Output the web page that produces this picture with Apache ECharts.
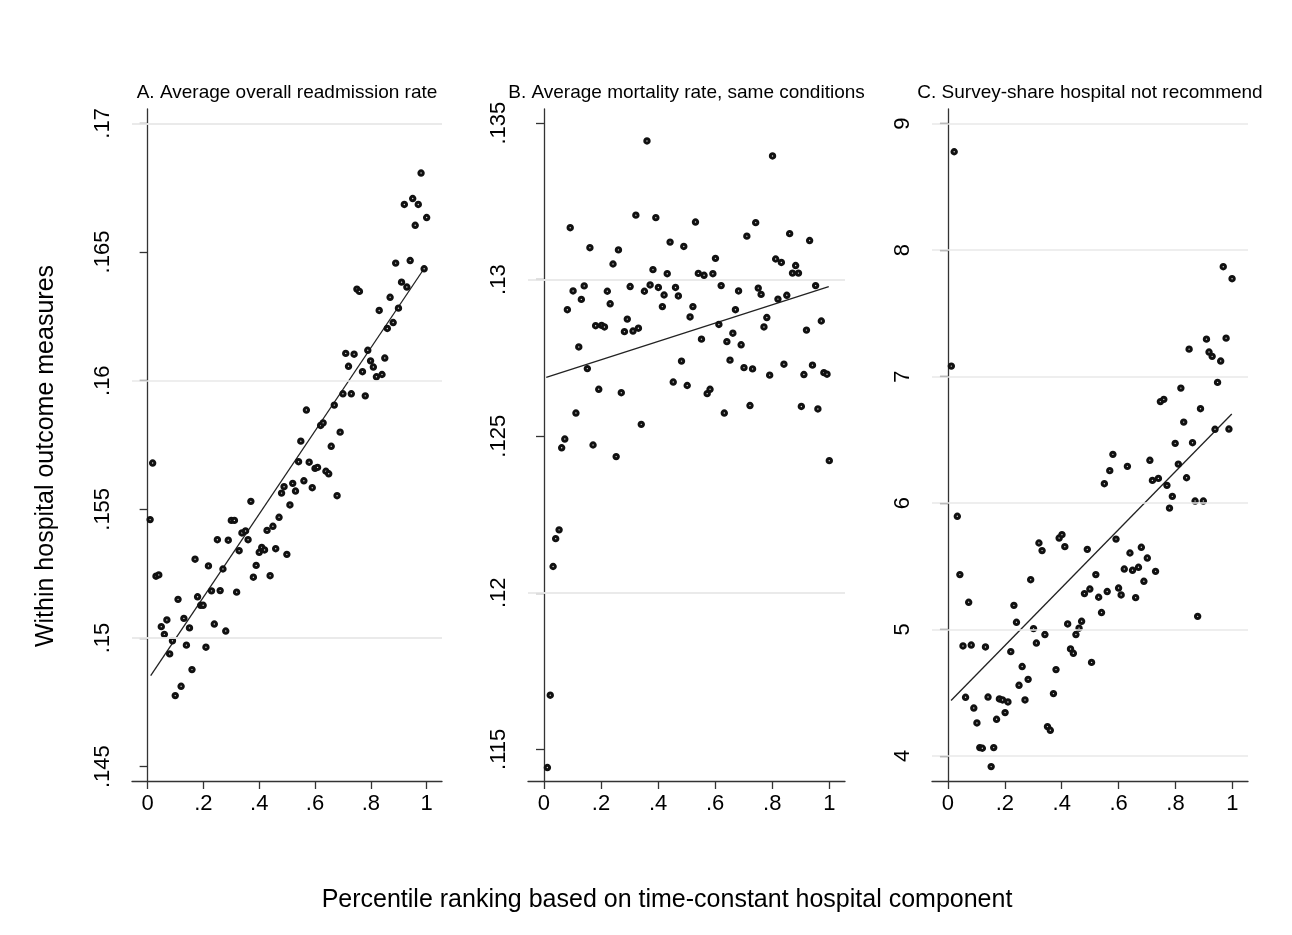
<!DOCTYPE html>
<html>
<head>
<meta charset="utf-8">
<title>Hospital outcome measures by percentile ranking</title>
<script src="https://cdn.jsdelivr.net/npm/echarts@6/dist/echarts.min.js"></script>
<style>
  html, body { margin: 0; padding: 0; background: #fff; }
  #chart { width: 1292px; height: 935px; }
</style>
</head>
<body>
<div id="chart"></div>
<script>
// panel titles
const panelTitles = [
  'A. Average overall readmission rate',
  'B. Average mortality rate, same conditions',
  'C. Survey-share hospital not recommend'
];

// tick values
const xTicks = [0, 0.2, 0.4, 0.6, 0.8, 1];
const yTicksA = [0.145, 0.15, 0.155, 0.16, 0.165, 0.17];
const yTicksB = [0.115, 0.12, 0.125, 0.13, 0.135];
const yTicksC = [4, 5, 6, 7, 8, 9];

// A: readmission rate, [percentile, value]
const readmitPts = [
  [0.009,0.1546],[0.018,0.1568],[0.030,0.1524],[0.040,0.15245],[0.049,0.15044],[0.060,0.15014],
  [0.069,0.1507],[0.079,0.14938],[0.089,0.14989],[0.099,0.14776],[0.109,0.1515],[0.120,0.14812],
  [0.130,0.15076],[0.139,0.14972],[0.150,0.15039],[0.159,0.14877],[0.170,0.15306],[0.179,0.1516],
  [0.190,0.15127],[0.199,0.15127],[0.209,0.14964],[0.218,0.1528],[0.229,0.15183],[0.239,0.15054],
  [0.250,0.15382],[0.260,0.15184],[0.270,0.15268],[0.280,0.15027],[0.289,0.1538],[0.300,0.15457],
  [0.311,0.15457],[0.319,0.15178],[0.328,0.15339],[0.338,0.15408],[0.351,0.15416],[0.360,0.15382],
  [0.370,0.15531],[0.379,0.15236],[0.389,0.15282],[0.400,0.15333],[0.409,0.15352],[0.419,0.15342],
  [0.428,0.15418],[0.439,0.15242],[0.449,0.15434],[0.459,0.15347],[0.471,0.15469],[0.480,0.15563],
  [0.489,0.15588],[0.499,0.15325],[0.510,0.15517],[0.520,0.15601],[0.530,0.15571],[0.541,0.15685],
  [0.549,0.15765],[0.560,0.15611],[0.569,0.15886],[0.579,0.15683],[0.590,0.15584],[0.600,0.15659],
  [0.609,0.15663],[0.620,0.15826],[0.629,0.15836],[0.639,0.15648],[0.649,0.15638],[0.658,0.15745],
  [0.669,0.15905],[0.679,0.15553],[0.690,0.158],[0.700,0.15949],[0.710,0.16106],[0.720,0.16056],
  [0.730,0.15949],[0.740,0.16103],[0.750,0.16356],[0.759,0.16347],[0.770,0.16035],[0.780,0.15941],
  [0.789,0.16118],[0.799,0.16077],[0.809,0.16053],[0.820,0.16015],[0.830,0.16273],[0.840,0.16024],
  [0.850,0.16088],[0.859,0.16203],[0.869,0.16324],[0.880,0.16226],[0.889,0.16457],[0.899,0.16282],
  [0.910,0.16383],[0.920,0.16685],[0.929,0.16364],[0.941,0.16467],[0.950,0.16708],[0.959,0.16604],
  [0.970,0.16685],[0.980,0.16807],[0.991,0.16435],[1.000,0.16634]
];
const readmitFit = [[0.011, 0.14854], [0.991, 0.16436]];

// B: mortality rate
const mortalityPts = [
  [0.012,0.11442],[0.022,0.11673],[0.032,0.12084],[0.041,0.12173],[0.053,0.12201],[0.062,0.12463],
  [0.073,0.12491],[0.082,0.12904],[0.092,0.13166],[0.102,0.12964],[0.112,0.12574],[0.122,0.12785],
  [0.131,0.12937],[0.141,0.1298],[0.152,0.12716],[0.161,0.13102],[0.172,0.12472],[0.181,0.12853],
  [0.192,0.1265],[0.202,0.12854],[0.212,0.12849],[0.222,0.12963],[0.232,0.12923],[0.242,0.1305],
  [0.253,0.12435],[0.261,0.13095],[0.271,0.12639],[0.282,0.12834],[0.292,0.12874],[0.302,0.12978],
  [0.312,0.12836],[0.322,0.13206],[0.331,0.12845],[0.341,0.12538],[0.352,0.12963],[0.361,0.13443],
  [0.372,0.12983],[0.382,0.13032],[0.392,0.13198],[0.401,0.12975],[0.415,0.12914],[0.421,0.12951],
  [0.432,0.13019],[0.442,0.1312],[0.453,0.12673],[0.461,0.12975],[0.471,0.12948],[0.482,0.1274],
  [0.490,0.13106],[0.502,0.12662],[0.512,0.12881],[0.522,0.12914],[0.531,0.13184],[0.541,0.1302],
  [0.552,0.1281],[0.561,0.13014],[0.572,0.12636],[0.582,0.1265],[0.592,0.13019],[0.601,0.13068],
  [0.613,0.12857],[0.621,0.12981],[0.632,0.12574],[0.641,0.12802],[0.652,0.12743],[0.662,0.12829],
  [0.671,0.12904],[0.682,0.12964],[0.691,0.12792],[0.701,0.12719],[0.711,0.13139],[0.722,0.12598],
  [0.731,0.12715],[0.742,0.13182],[0.751,0.12973],[0.761,0.12953],[0.771,0.12849],[0.781,0.12879],
  [0.791,0.12695],[0.801,0.13395],[0.812,0.13066],[0.820,0.12938],[0.832,0.13055],[0.841,0.1273],
  [0.851,0.1295],[0.861,0.13147],[0.871,0.13021],[0.882,0.13045],[0.892,0.13021],[0.902,0.12595],
  [0.911,0.12697],[0.920,0.12839],[0.931,0.13125],[0.941,0.12727],[0.952,0.12981],[0.960,0.12587],
  [0.972,0.12868],[0.981,0.12703],[0.992,0.12698],[1.000,0.12422]
];
const mortalityFit = [[0.008, 0.12688], [0.998, 0.12978]];

// C: share not recommending
const recommendPts = [
  [0.012,7.083],[0.022,8.778],[0.033,5.895],[0.042,5.434],[0.053,4.870],[0.062,4.464],
  [0.073,5.215],[0.082,4.877],[0.091,4.379],[0.102,4.261],[0.112,4.066],[0.121,4.061],
  [0.132,4.862],[0.141,4.466],[0.152,3.916],[0.161,4.066],[0.171,4.29],[0.181,4.451],
  [0.192,4.443],[0.201,4.343],[0.211,4.427],[0.221,4.825],[0.232,5.191],[0.241,5.057],
  [0.250,4.559],[0.261,4.707],[0.271,4.443],[0.282,4.606],[0.291,5.394],[0.301,5.007],
  [0.311,4.893],[0.320,5.684],[0.331,5.624],[0.341,4.960],[0.350,4.232],[0.360,4.203],
  [0.371,4.493],[0.380,4.683],[0.391,5.723],[0.401,5.75],[0.411,5.655],[0.421,5.044],
  [0.431,4.846],[0.441,4.812],[0.450,4.960],[0.461,5.01],[0.470,5.065],[0.480,5.284],
  [0.490,5.634],[0.499,5.32],[0.505,4.74],[0.520,5.434],[0.530,5.255],[0.540,5.134],
  [0.550,6.153],[0.560,5.3],[0.569,6.256],[0.580,6.385],[0.591,5.715],[0.600,5.328],
  [0.609,5.273],[0.620,5.478],[0.631,6.29],[0.640,5.605],[0.649,5.468],[0.660,5.252],
  [0.670,5.492],[0.680,5.65],[0.689,5.381],[0.701,5.565],[0.710,6.338],[0.719,6.179],
  [0.730,5.46],[0.740,6.195],[0.747,6.802],[0.759,6.820],[0.770,6.14],[0.779,5.960],
  [0.789,6.053],[0.799,6.472],[0.810,6.308],[0.819,6.909],[0.829,6.64],[0.839,6.2],
  [0.848,7.217],[0.860,6.477],[0.869,6.016],[0.878,5.104],[0.888,6.746],[0.898,6.016],
  [0.909,7.296],[0.918,7.194],[0.929,7.16],[0.939,6.583],[0.948,6.954],[0.959,7.123],
  [0.968,7.869],[0.978,7.304],[0.988,6.585],[0.999,7.774]
];
const recommendFit = [[0.011, 4.439], [0.998, 6.704]];

const FONT = "'Liberation Sans', Arial, Helvetica, sans-serif";
const stripZero = v => String(+v.toFixed(4)).replace(/^0\./, '.');

const panels = [
  { left: 132, width: 310, ymin: 0.14444, ymax: 0.17056, yTicks: yTicksA, pts: readmitPts, fit: readmitFit },
  { left: 528, width: 317, ymin: 0.11399, ymax: 0.13545, yTicks: yTicksB, pts: mortalityPts, fit: mortalityFit },
  { left: 932, width: 316, ymin: 3.802, ymax: 9.116, yTicks: yTicksC, pts: recommendPts, fit: recommendFit }
];

const option = {
  backgroundColor: '#fff',
  animation: false,
  grid: panels.map(p => ({ left: p.left, width: p.width, top: 109, height: 672 })),
  xAxis: panels.map((p, i) => ({
    type: 'value', gridIndex: i, min: -0.056, max: 1.055,
    axisLine: { lineStyle: { color: '#333', width: 1.3 } },
    axisTick: { customValues: xTicks, length: 8, lineStyle: { color: '#333', width: 1.3 } },
    axisLabel: { customValues: xTicks, formatter: stripZero, color: '#000', fontSize: 22, fontFamily: FONT, margin: 12 },
    splitLine: { show: false }
  })),
  yAxis: panels.map((p, i) => ({
    type: 'value', gridIndex: i, min: p.ymin, max: p.ymax,
    axisLine: { show: true, lineStyle: { color: '#333', width: 1.3 } },
    axisTick: { show: true, customValues: p.yTicks, length: 8, lineStyle: { color: '#333', width: 1.3 } },
    axisLabel: { customValues: p.yTicks, formatter: stripZero, rotate: 90, color: '#000', fontSize: 22, fontFamily: FONT, margin: 18 },
    splitLine: { show: false }
  })),
  series: [],
  graphic: []
};

panels.forEach((p, i) => {
  option.series.push({
    type: 'line', xAxisIndex: i, yAxisIndex: i, data: p.fit, z: 2,
    symbol: 'none', silent: true,
    lineStyle: { color: '#222', width: 1.3 },
    markLine: {
      silent: true, symbol: 'none', label: { show: false },
      lineStyle: { color: '#e8e8e8', width: 1.6, type: 'solid' },
      data: p.yTicks.map(v => ({ yAxis: v }))
    }
  });
  option.series.push({
    type: 'scatter', xAxisIndex: i, yAxisIndex: i, data: p.pts, z: 3,
    symbol: 'circle', symbolSize: 4.4,
    itemStyle: { color: '#d8d8d8', borderColor: '#111', borderWidth: 3, opacity: 1 }
  });
  option.graphic.push({
    type: 'text', x: p.left + p.width / 2, y: 93,
    style: { text: panelTitles[i], font: '19px ' + FONT, fill: '#000', align: 'center', verticalAlign: 'middle' }
  });
});

option.graphic.push({
  type: 'text', x: 46, y: 456, rotation: Math.PI / 2,
  style: { text: 'Within hospital outcome measures', font: '25px ' + FONT, fill: '#000', align: 'center', verticalAlign: 'middle' }
});
option.graphic.push({
  type: 'text', x: 667, y: 900,
  style: { text: 'Percentile ranking based on time-constant hospital component', font: '25px ' + FONT, fill: '#000', align: 'center', verticalAlign: 'middle' }
});

const chart = echarts.init(document.getElementById('chart'), null, { renderer: 'canvas' });
chart.setOption(option);
</script>
</body>
</html>
